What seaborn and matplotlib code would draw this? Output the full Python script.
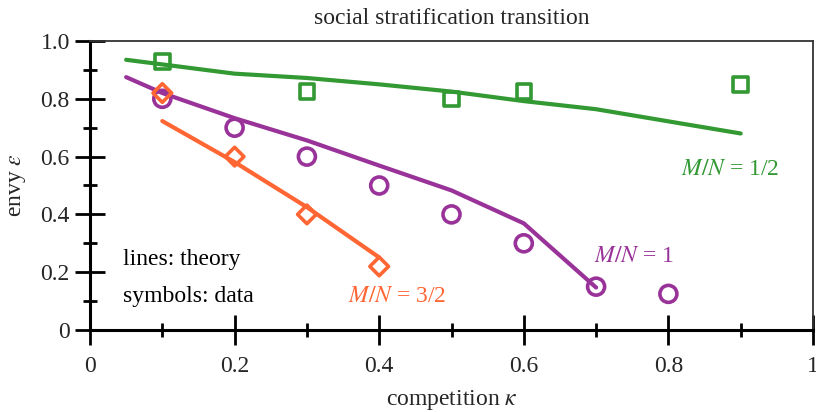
import numpy as np
import pandas as pd
import matplotlib
matplotlib.use("Agg")
import matplotlib.pyplot as plt
import seaborn as sns
from matplotlib.ticker import MultipleLocator, FuncFormatter

# ---- data ----
theory_half_x = [0.05, 0.2, 0.3, 0.4, 0.5, 0.6, 0.7, 0.8, 0.9]
theory_half_y = [0.935, 0.887, 0.872, 0.85, 0.825, 0.792, 0.764, 0.722, 0.68]
theory_one_x = [0.05, 0.1, 0.2, 0.3, 0.4, 0.5, 0.6, 0.7]
theory_one_y = [0.875, 0.82, 0.733, 0.656, 0.569, 0.483, 0.369, 0.147]
theory_threehalf_x = [0.1, 0.2, 0.3, 0.4]
theory_threehalf_y = [0.723, 0.581, 0.425, 0.251]

data_half_x = [0.1, 0.3, 0.5, 0.6, 0.9]
data_half_y = [0.93, 0.825, 0.80, 0.825, 0.85]
data_one_x = [0.1, 0.2, 0.3, 0.4, 0.5, 0.6, 0.7, 0.8]
data_one_y = [0.80, 0.70, 0.60, 0.50, 0.40, 0.30, 0.15, 0.125]
data_threehalf_x = [0.1, 0.2, 0.3, 0.4]
data_threehalf_y = [0.82, 0.60, 0.40, 0.22]

green = "#339933"
purple = "#993399"
orange = "#ff6633"

sns.set_theme(style="white")
plt.rcParams["font.family"] = ["Liberation Serif", "DejaVu Serif"]
plt.rcParams["mathtext.fontset"] = "stix"

FS = 17

fig = plt.figure(figsize=(8.16, 4.12), dpi=100)
ax = fig.add_axes([90 / 816, 82 / 412, 723 / 816, 289 / 412])

series = [
    (theory_half_x, theory_half_y, data_half_x, data_half_y, green, "s", 110),
    (theory_one_x, theory_one_y, data_one_x, data_one_y, purple, "o", 150),
    (theory_threehalf_x, theory_threehalf_y, data_threehalf_x, data_threehalf_y, orange, "D", 90),
]
for tx, ty, dx, dy, col, mk, s in series:
    sns.lineplot(x=tx, y=ty, ax=ax, color=col, linewidth=3, sort=False)
    sns.scatterplot(x=dx, y=dy, ax=ax, marker=mk, s=s, facecolor="none",
                    edgecolor=col, linewidth=2.6, zorder=3)

ax.set_xlim(0, 1)
ax.set_ylim(0, 1)
ax.xaxis.set_major_locator(MultipleLocator(0.2))
ax.xaxis.set_minor_locator(MultipleLocator(0.1))
ax.yaxis.set_major_locator(MultipleLocator(0.2))
ax.yaxis.set_minor_locator(MultipleLocator(0.1))
ax.xaxis.set_major_formatter(FuncFormatter(
    lambda v, p: "0" if abs(v) < 1e-9 else ("1" if abs(v - 1) < 1e-9 else f"{v:.1f}")))
ax.yaxis.set_major_formatter(FuncFormatter(
    lambda v, p: "0" if abs(v) < 1e-9 else f"{v:.1f}"))
ax.tick_params(which="major", direction="inout", length=21, width=2, labelsize=FS,
               color="black", bottom=True, left=True)
ax.tick_params(axis="x", which="major", pad=8)
ax.tick_params(axis="y", which="major", pad=4)
ax.tick_params(which="minor", direction="inout", length=10, width=2, color="black",
               bottom=True, left=True)

for side in ["left", "bottom"]:
    ax.spines[side].set_color("black")
    ax.spines[side].set_linewidth(2.2)
for side in ["top", "right"]:
    ax.spines[side].set_color("#333333")
    ax.spines[side].set_linewidth(1.3)

ax.set_xlabel(r"competition $\kappa$", fontsize=FS, labelpad=8)
ax.set_ylabel(r"envy $\varepsilon$", fontsize=FS, labelpad=9)
ax.set_title("social stratification transition", fontsize=FS, pad=12)

ax.text(0.045, 0.245, "lines: theory", fontsize=FS, color="black", va="center", ha="left")
ax.text(0.045, 0.115, "symbols: data", fontsize=FS, color="black", va="center", ha="left")
ax.text(0.357, 0.115, r"$M/N$ = 3/2", fontsize=FS, color=orange, va="center", ha="left")
ax.text(0.697, 0.255, r"$M/N$ = 1", fontsize=FS, color=purple, va="center", ha="left")
ax.text(0.817, 0.555, r"$M/N$ = 1/2", fontsize=FS, color=green, va="center", ha="left")

fig.savefig("out.png", dpi=100)
